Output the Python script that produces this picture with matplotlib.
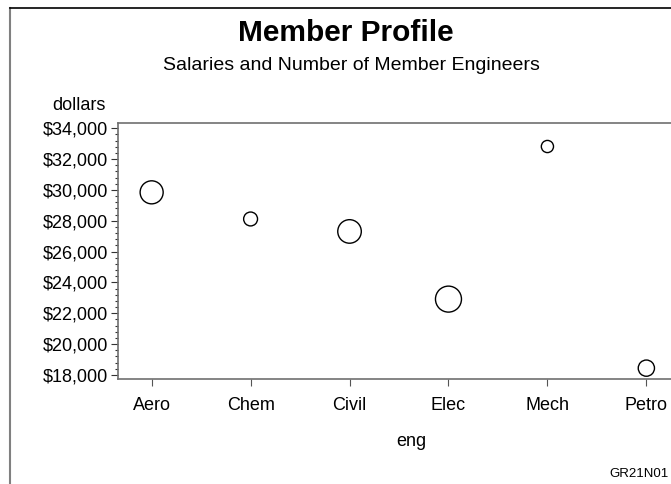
import matplotlib
matplotlib.use("Agg")
import matplotlib.pyplot as plt
from matplotlib.ticker import FuncFormatter, MultipleLocator
import numpy as np

plt.rcParams['font.family'] = ['Liberation Sans', 'DejaVu Sans']

eng = ["Aero", "Chem", "Civil", "Elec", "Mech", "Petro"]
dollars = [29844, 28116, 27308, 22920, 32816, 18444]
num = [70192, 25541, 73273, 89382, 19601, 34833]

W, H = 671, 484
fig = plt.figure(figsize=(W / 100, H / 100), dpi=100)

def fx(px):
    return px / W

def fy(py):
    return 1 - py / H

left, right, top, bottom = 118, 680, 123, 379
ax = fig.add_axes([fx(left), fy(bottom), fx(right - left), (bottom - top) / H])

x = np.arange(len(eng))
# bubble area proportional to num; largest radius ~13 px
rmax = 13.0
radii_pt = [rmax * np.sqrt(n / max(num)) * 72 / 100 for n in num]
sizes = [(2 * r) ** 2 for r in radii_pt]
ax.scatter(x, dollars, s=sizes, facecolors='none', edgecolors='black', linewidths=1.0, zorder=3)

ax.set_xlim(-0.34, 5.34)
ax.set_ylim(17740, 34340)
ax.set_xticks(x)
ax.set_xticklabels(eng)
ax.yaxis.set_major_locator(MultipleLocator(2000))
ax.yaxis.set_minor_locator(MultipleLocator(400))
ax.yaxis.set_major_formatter(FuncFormatter(lambda v, p: "${:,.0f}".format(v)))

for s in ax.spines.values():
    s.set_color('#707070')
    s.set_linewidth(1.2)
ax.spines['right'].set_visible(False)

ax.tick_params(axis='y', which='major', length=5, width=0.8, color='#333333', labelsize=13, pad=2)
ax.tick_params(axis='y', which='minor', length=2.5, width=0.8, color='#333333')
ax.tick_params(axis='x', which='major', length=5, width=0.8, color='#555555', labelsize=13, pad=8)

fig.text(fx(346), fy(33), "Member Profile", ha='center', va='center', fontsize=21.5, fontweight='bold')
fig.text(fx(351), fy(66), "Salaries and Number of Member Engineers", ha='center', va='center', fontsize=14)
fig.text(fx(79), fy(105), "dollars", ha='center', va='center', fontsize=13)
fig.text(fx(411), fy(442), "eng", ha='center', va='center', fontsize=13)
fig.text(fx(669), fy(474), "GR21N01", ha='right', va='center', fontsize=9.5)

# outer border (left gray, top black)
fig.add_artist(plt.Line2D([fx(9.5), fx(9.5)], [fy(8), 0], transform=fig.transFigure, color='#808080', linewidth=1.5))
fig.add_artist(plt.Line2D([fx(9.5), 1], [fy(8), fy(8)], transform=fig.transFigure, color='black', linewidth=1.2))

fig.savefig("out.png", dpi=100)
